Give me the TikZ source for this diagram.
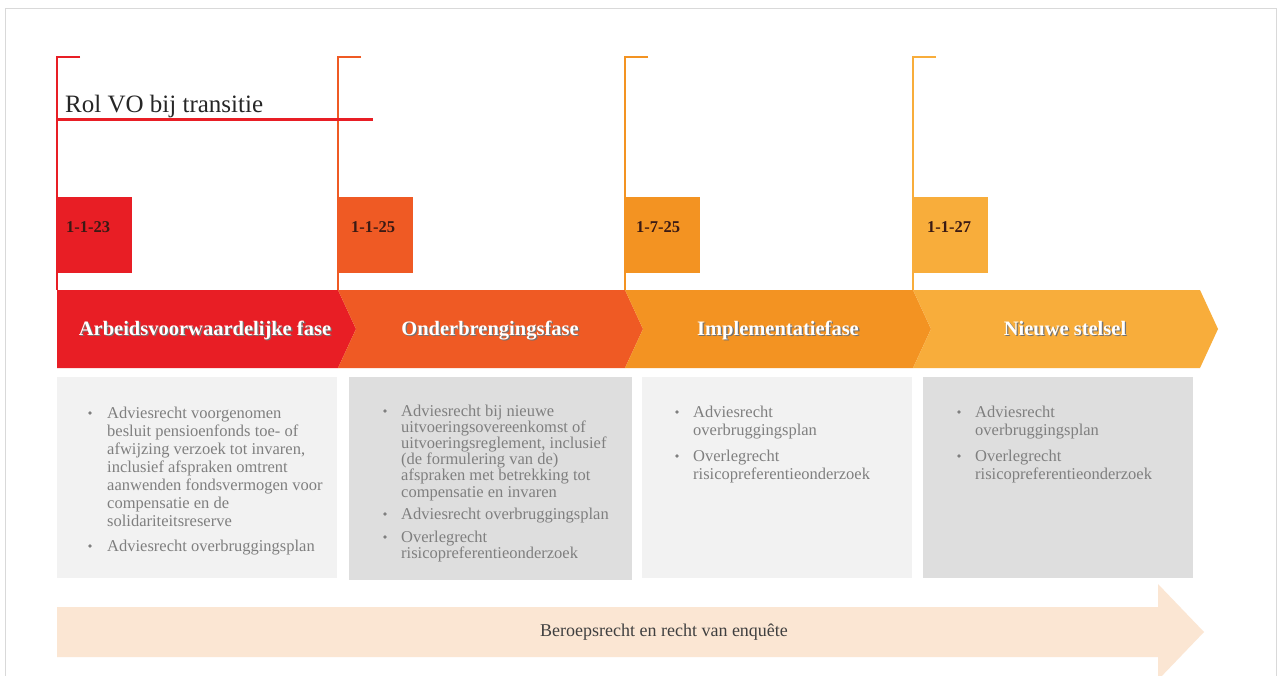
\documentclass[tikz,border=0pt]{standalone}
\usepackage{fontspec}
\setmainfont{Liberation Serif}
\definecolor{cRed}{HTML}{E81E25}
\definecolor{cOrR}{HTML}{EF5A24}
\definecolor{cOr}{HTML}{F39322}
\definecolor{cLt}{HTML}{F8AD3B}
\definecolor{boxA}{HTML}{F2F2F2}
\definecolor{boxB}{HTML}{DEDEDE}
\definecolor{peach}{HTML}{FBE6D3}
\definecolor{txtgray}{HTML}{7F7F7F}
\definecolor{datetxt}{HTML}{3A1A14}
\newcommand\shadowtxt[1]{\makebox[0pt][l]{\hspace{1.3pt}\raisebox{-1.3pt}{\color{black!55}#1}}#1}
\begin{document}
\begin{tikzpicture}[x=1pt,y=-1pt,
  bracket/.style={line width=1.5pt},
  datebox/.style={anchor=north west, minimum width=75pt, minimum height=76pt, inner sep=0pt, draw=none},
  datelbl/.style={anchor=base west, inner sep=0pt, text=datetxt, font=\bfseries\fontsize{16.5}{18}\selectfont},
  phaselbl/.style={anchor=base, inner sep=0pt, text=white, font=\bfseries\fontsize{20.5}{24}\selectfont},
  graybox/.style={anchor=north west, inner sep=0pt, draw=none, minimum width=#1},
  bul/.style={circle, fill=txtgray, inner sep=0pt, minimum size=3.6pt},
  itemtxt/.style={anchor=base west, inner sep=0pt, text=txtgray, font=\fontsize{16.5}{18}\selectfont}
]
\useasboundingbox (0,0) rectangle (1280,675);
\fill[white] (0,0) rectangle (1280,675);
% outer frame
\draw[black!15, line width=1pt] (5,690) -- (5,8) -- (1276,8) -- (1276,690);

% brackets
\draw[bracket, cRed] (80,57) -- (57,57) -- (57,290);
\draw[bracket, cOrR] (361,57) -- (338,57) -- (338,290);
\draw[bracket, cOr] (648,57) -- (625,57) -- (625,290);
\draw[bracket, cLt] (936,57) -- (913,57) -- (913,290);

% title
\node[anchor=base west, inner sep=0pt, text=black!85, font=\fontsize{25}{28}\selectfont] (title) at (65,112) {Rol VO bij transitie};
\draw[cRed, line width=3pt] (57,119) -- (373,119);

% date boxes
\node[datebox, fill=cRed] (d1) at (57,197) {};
\node[datebox, fill=cOrR] (d2) at (338,197) {};
\node[datebox, fill=cOr] (d3) at (625,197) {};
\node[datebox, fill=cLt] (d4) at (913,197) {};
\node[datelbl] (d1t) at (66,232.5) {1-1-23};
\node[datelbl] (d2t) at (351,232.5) {1-1-25};
\node[datelbl] (d3t) at (636,232.5) {1-7-25};
\node[datelbl] (d4t) at (927,232.5) {1-1-27};

% chevrons
\fill[cRed] (57,290) -- (338,290) -- (356,329) -- (338,368) -- (57,368) -- cycle;
\fill[cOrR] (338,290) -- (625,290) -- (643,329) -- (625,368) -- (338,368) -- (356,329) -- cycle;
\fill[cOr] (625,290) -- (913,290) -- (931,329) -- (913,368) -- (625,368) -- (643,329) -- cycle;
\fill[cLt] (913,290) -- (1200,290) -- (1218,329) -- (1200,368) -- (913,368) -- (931,329) -- cycle;
\node[phaselbl] (p1) at (205,335) {\shadowtxt{Arbeidsvoorwaardelijke fase}};
\node[phaselbl] (p2) at (490,335) {\shadowtxt{Onderbrengingsfase}};
\node[phaselbl] (p3) at (778,335) {\shadowtxt{Implementatiefase}};
\node[phaselbl] (p4) at (1065,335) {\shadowtxt{Nieuwe stelsel}};

% gray boxes
\node[graybox=280pt, fill=boxA, minimum height=201pt] (g1) at (57,377) {};
\node[graybox=283pt, fill=boxB, minimum height=203pt] (g2) at (349,377) {};
\node[graybox=270pt, fill=boxA, minimum height=201pt] (g3) at (642,377) {};
\node[graybox=270pt, fill=boxB, minimum height=201pt] (g4) at (923,377) {};

% box 1
\node[bul] (b1a) at (90,413) {};
\node[itemtxt] (t1a) at (107,418) {\parbox[t]{260pt}{\raggedright\setlength\baselineskip{18pt}Adviesrecht voorgenomen\\besluit pensioenfonds toe- of\\afwijzing verzoek tot invaren,\\inclusief afspraken omtrent\\aanwenden fondsvermogen voor\\compensatie en de\\solidariteitsreserve}};
\node[bul] (b1b) at (90,546) {};
\node[itemtxt] (t1b) at (107,551) {Adviesrecht overbruggingsplan};

% box 2
\node[bul] (b2a) at (385,411) {};
\node[itemtxt] (t2a) at (401,416) {\parbox[t]{260pt}{\raggedright\setlength\baselineskip{16.2pt}Adviesrecht bij nieuwe\\uitvoeringsovereenkomst of\\uitvoeringsreglement, inclusief\\(de formulering van de)\\afspraken met betrekking tot\\compensatie en invaren}};
\node[bul] (b2b) at (385,514) {};
\node[itemtxt] (t2b) at (401,519) {Adviesrecht overbruggingsplan};
\node[bul] (b2c) at (385,537) {};
\node[itemtxt] (t2c) at (401,542) {\parbox[t]{260pt}{\raggedright\setlength\baselineskip{16.2pt}Overlegrecht\\risicopreferentieonderzoek}};

% box 3
\node[bul] (b3a) at (677,412) {};
\node[itemtxt] (t3a) at (693,417) {\parbox[t]{240pt}{\raggedright\setlength\baselineskip{18.5pt}Adviesrecht\\overbruggingsplan}};
\node[bul] (b3b) at (677,456) {};
\node[itemtxt] (t3b) at (693,461) {\parbox[t]{240pt}{\raggedright\setlength\baselineskip{18.5pt}Overlegrecht\\risicopreferentieonderzoek}};

% box 4
\node[bul] (b4a) at (959,412) {};
\node[itemtxt] (t4a) at (975,417) {\parbox[t]{240pt}{\raggedright\setlength\baselineskip{18.5pt}Adviesrecht\\overbruggingsplan}};
\node[bul] (b4b) at (959,456) {};
\node[itemtxt] (t4b) at (975,461) {\parbox[t]{240pt}{\raggedright\setlength\baselineskip{18.5pt}Overlegrecht\\risicopreferentieonderzoek}};

% bottom arrow
\fill[peach] (57,607) -- (1158,607) -- (1158,584) -- (1204,632) -- (1158,680) -- (1158,657) -- (57,657) -- cycle;
\node[inner sep=0pt, text=black!75, font=\fontsize{18}{20}\selectfont] (arr) at (664,632) {Beroepsrecht en recht van enquête};
\end{tikzpicture}
\end{document}
